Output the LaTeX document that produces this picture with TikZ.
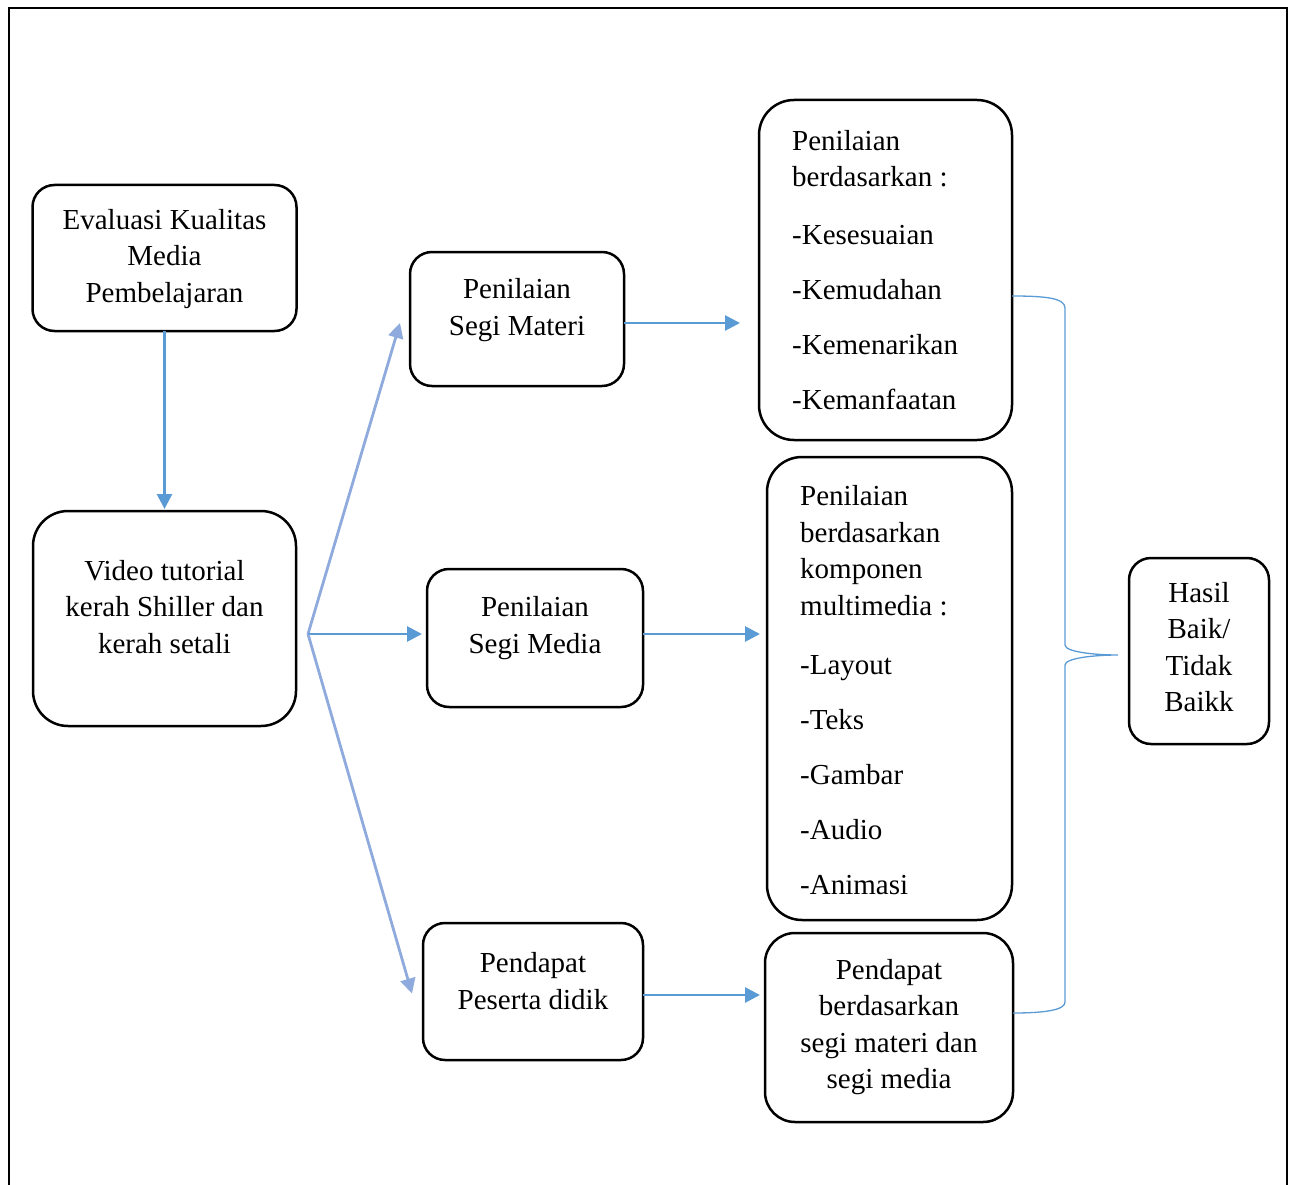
\documentclass[tikz,border=0pt]{standalone}
\usepackage{fontspec}
\setmainfont{Liberation Serif}
\usetikzlibrary{arrows.meta}

\definecolor{arrowblue}{RGB}{91,155,213}
\definecolor{fanblue}{RGB}{143,170,220}

\tikzset{
  box/.style={draw, rounded corners=#1, line width=2.5pt,
              inner sep=0pt, outer sep=0pt},
  box/.default={22pt},
  txt/.style={align=center, inner sep=0pt,
              font=\fontsize{29}{36.5}\selectfont},
  list/.style={txt, align=left, anchor=west},
  arrow/.style={arrowblue, line width=2.8pt,
                -{Triangle[length=15pt,width=15pt]}},
  fan/.style={arrow, fanblue},
}

\begin{document}
\begin{tikzpicture}[x=1pt, y=-1pt]
  \useasboundingbox (0,0) rectangle (1290,1185);
  % frame, open at the bottom
  \draw[line width=2pt] (9,1185) -- (9,8) -- (1287,8) -- (1287,1185);

  % left column
  \node[box, minimum width=264, minimum height=146] (eval) at (164.5,258) {};
  \node[txt] (eval-txt) at (164.5,259) {Evaluasi Kualitas\\Media\\Pembelajaran};
  \node[box=35pt, minimum width=263, minimum height=215] (video) at (164.5,618.5) {};
  \node[txt] (video-txt) at (164.5,607) {Video tutorial\\kerah Shiller dan\\kerah setali};

  % middle column
  \node[box, minimum width=214, minimum height=134] (materi) at (517,319) {};
  \node[txt] (materi-txt) at (517,310) {Penilaian\\Segi Materi};
  \node[box, minimum width=216, minimum height=138] (media) at (535,638) {};
  \node[txt] (media-txt) at (535,628) {Penilaian\\Segi Media};
  \node[box, minimum width=220, minimum height=137] (pendapat) at (533,991.5) {};
  \node[txt] (pendapat-txt) at (533,981) {Pendapat\\Peserta didik};

  % right column
  \node[box=35pt, minimum width=253, minimum height=340] (kritmateri) at (885.5,270) {};
  \node[list] (kritmateri-txt) at (792,270) {Penilaian\\berdasarkan :\\[21.5pt]-Kesesuaian\\[18.5pt]-Kemudahan\\[18.5pt]-Kemenarikan\\[18.5pt]-Kemanfaatan};
  \node[box=35pt, minimum width=245, minimum height=463] (kritmedia) at (889.5,688.5) {};
  \node[list] (kritmedia-txt) at (800,690) {Penilaian\\berdasarkan\\komponen\\multimedia :\\[22.5pt]-Layout\\[18.5pt]-Teks\\[18.5pt]-Gambar\\[18.5pt]-Audio\\[18.5pt]-Animasi};
  \node[box=30pt, minimum width=248, minimum height=189] (kritpendapat) at (889,1027.5) {};
  \node[txt] (kritpendapat-txt) at (889,1027) {Pendapat\\berdasarkan\\segi materi dan\\segi media};

  % result
  \node[box, minimum width=140, minimum height=186] (hasil) at (1199,651) {};
  \node[txt] (hasil-txt) at (1199,647) {Hasil\\Baik/\\Tidak\\Baikk};

  % connectors
  \coordinate (split) at (308,634);
  \draw[arrow, shorten >=2pt] (eval.south) -- (video.north);
  \draw[fan] (split) -- ([shift={(-10,4)}]materi.west);
  \draw[arrow, shorten >=5pt] (split) -- (media.west |- split);
  \draw[fan] (split) -- ([shift={(-11,2)}]pendapat.west);
  \draw[arrow, shorten >=19pt] (materi.east |- 0,323) -- (kritmateri.west |- 0,323);
  \draw[arrow, shorten >=7pt] (media.east |- 0,634) -- (kritmedia.west |- 0,634);
  \draw[arrow, shorten >=5pt] (pendapat.east |- 0,995) -- (kritpendapat.west |- 0,995);

  % brace towards the result
  \coordinate (tip) at (1118,655);
  \draw[arrowblue, line width=1.3pt] (kritmateri.east |- 0,296)
    .. controls (1045,296) and (1065,298) .. (1065,308) -- (1065,645)
    .. controls (1065,652) and (1095,655) .. (tip)
    .. controls (1095,655) and (1065,658) .. (1065,665) -- (1065,1002)
    .. controls (1065,1010) and (1045,1013) .. (kritpendapat.east |- 0,1013);
\end{tikzpicture}
\end{document}
